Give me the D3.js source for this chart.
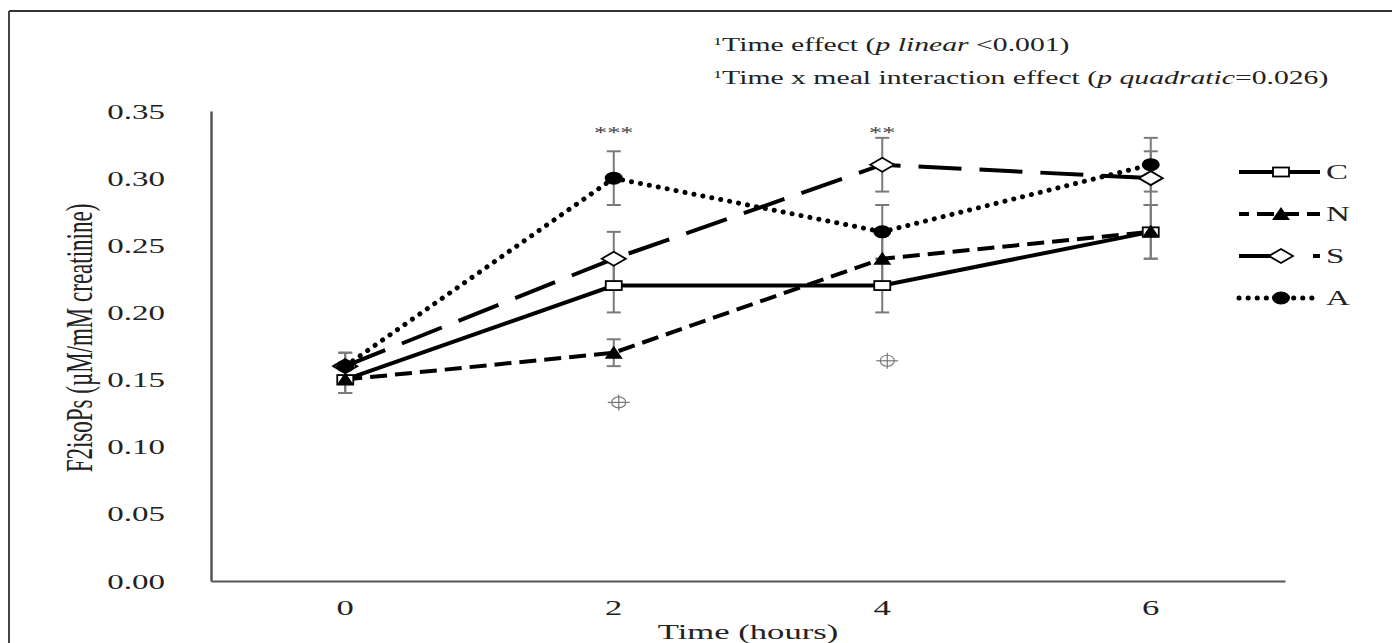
<!DOCTYPE html>
<html lang="en">
<head>
<meta charset="UTF-8">
<title>F2isoPs over time</title>
<script src="https://d3js.org/d3.v7.min.js"></script>
<style>
    body { margin: 0; background: #fff; }
    svg { display: block; font-family: "Liberation Serif", "DejaVu Serif", serif; }
    .err { stroke: #7a7a7a; stroke-width: 2; fill: none; }
</style>
</head>
<body>
<svg width="1392" height="643"></svg>
<script>
// data
const times = ["0", "2", "4", "6"];
const seriesNames = ["C", "N", "S", "A"];
const valuesC = [0.15, 0.22, 0.22, 0.26];
const valuesN = [0.15, 0.17, 0.24, 0.26];
const valuesS = [0.16, 0.24, 0.31, 0.30];
const valuesA = [0.16, 0.30, 0.26, 0.31];
const errC = [0.01, 0.02, 0.02, 0.02];
const errN = [0.01, 0.01, 0.02, 0.02];
const errS = [0.01, 0.02, 0.02, 0.02];
const errA = [0.01, 0.02, 0.02, 0.02];
const yTicks = [0, 0.05, 0.10, 0.15, 0.20, 0.25, 0.30, 0.35];
const starLabels = [{ time: "2", text: "***" }, { time: "4", text: "**" }];
const sigMarks = [{ time: "2", value: 0.133 }, { time: "4", value: 0.164 }];

const series = [
    { name: "C", values: valuesC, err: errC, dash: null, legDash: null, cap: "butt", width: 4, marker: "square" },
    { name: "N", values: valuesN, err: errN, dash: "17,8", legDash: "17,8", cap: "butt", width: 4, marker: "triangle" },
    { name: "S", values: valuesS, err: errS, dash: "43,18", legDash: "52,22", cap: "butt", width: 4, marker: "diamond" },
    { name: "A", values: valuesA, err: errA, dash: "0.1,9", legDash: "0.1,9", cap: "round", width: 5, marker: "circle" }
];

const SX = 1.65; // the text in the picture is stretched sideways

const svg = d3.select("svg");

function stretchText(parent, px, py, size, anchor) {
    return parent.append("text")
        .attr("transform", `translate(${px},${py}) scale(${SX},1)`)
        .attr("font-size", size)
        .attr("text-anchor", anchor || "start")
        .attr("fill", "#222");
}

// frame
svg.append("line").attr("x1", 9).attr("y1", 11).attr("x2", 1392).attr("y2", 11)
    .attr("stroke", "#333").attr("stroke-width", 2);
svg.append("line").attr("x1", 9).attr("y1", 11).attr("x2", 9).attr("y2", 643)
    .attr("stroke", "#444").attr("stroke-width", 2);

const x = d3.scaleBand().domain(times).range([211, 1285]);
const y = d3.scaleLinear().domain([0, 0.35]).range([581, 111]);
const cx = t => x(t) + x.bandwidth() / 2;

// axes
const yAxis = svg.append("g").attr("transform", "translate(211,0)")
    .call(d3.axisLeft(y).tickValues(yTicks).tickFormat(d3.format(".2f")).tickSize(0));
yAxis.select(".domain").attr("stroke", "#555").attr("stroke-width", 2.5);
yAxis.selectAll("text")
    .attr("x", 0).attr("dy", "0.35em")
    .attr("transform", `translate(-46,0) scale(${SX},1)`)
    .attr("font-size", 20).attr("font-family", "Liberation Serif").attr("fill", "#222");

const xAxis = svg.append("g").attr("transform", "translate(0,581)")
    .call(d3.axisBottom(x).tickSize(0));
xAxis.select(".domain").attr("stroke", "#555").attr("stroke-width", 2);
xAxis.selectAll("text")
    .attr("y", 0).attr("dy", 0)
    .attr("transform", `translate(0,34) scale(${SX},1)`)
    .attr("font-size", 21).attr("font-family", "Liberation Serif").attr("fill", "#222");

// axis titles
svg.append("text")
    .attr("transform", `translate(92,338) scale(${SX},1) rotate(-90)`)
    .attr("text-anchor", "middle")
    .attr("font-size", 23)
    .attr("fill", "#222")
    .text("F2isoPs (µM/mM creatinine)");
stretchText(svg, (x.range()[0] + x.range()[1]) / 2, 639, 21, "middle").text("Time (hours)");

// annotations
const note1 = stretchText(svg, 713, 51, 18);
note1.append("tspan").attr("font-size", 11).attr("dy", -6).text("1");
note1.append("tspan").attr("dy", 6).text("Time effect (");
note1.append("tspan").attr("font-style", "italic").text("p linear");
note1.append("tspan").text(" <0.001)");

const note2 = stretchText(svg, 713, 84, 18);
note2.append("tspan").attr("font-size", 11).attr("dy", -6).text("1");
note2.append("tspan").attr("dy", 6).text("Time x meal interaction effect (");
note2.append("tspan").attr("font-style", "italic").text("p quadratic");
note2.append("tspan").text("=0.026)");

// error bars
const errG = svg.append("g");
series.forEach(s => {
    times.forEach((t, i) => {
        const lo = y(s.values[i] - s.err[i]), hi = y(s.values[i] + s.err[i]);
        errG.append("line").attr("class", "err").attr("x1", cx(t)).attr("x2", cx(t)).attr("y1", lo).attr("y2", hi);
        errG.append("line").attr("class", "err").attr("x1", cx(t) - 7).attr("x2", cx(t) + 7).attr("y1", lo).attr("y2", lo);
        errG.append("line").attr("class", "err").attr("x1", cx(t) - 7).attr("x2", cx(t) + 7).attr("y1", hi).attr("y2", hi);
    });
});

// lines
const line = d3.line().x((d, i) => cx(times[i])).y(d => y(d));
series.forEach(s => {
    svg.append("path")
        .attr("d", line(s.values))
        .attr("fill", "none")
        .attr("stroke", "#000")
        .attr("stroke-width", s.width)
        .attr("stroke-dasharray", s.dash)
        .attr("stroke-linecap", s.cap);
});

function drawMarker(g, type, px, py) {
    if (type === "square") {
        g.append("rect").attr("x", px - 8).attr("y", py - 4.5).attr("width", 16).attr("height", 9)
            .attr("fill", "#fff").attr("stroke", "#000").attr("stroke-width", 1.8);
    } else if (type === "triangle") {
        g.append("path").attr("d", `M${px},${py - 7}L${px + 9},${py + 6}L${px - 9},${py + 6}Z`).attr("fill", "#000");
    } else if (type === "diamond") {
        g.append("path").attr("d", `M${px - 12},${py}L${px},${py - 7}L${px + 12},${py}L${px},${py + 7}Z`)
            .attr("fill", "#fff").attr("stroke", "#000").attr("stroke-width", 1.8);
    } else {
        g.append("ellipse").attr("cx", px).attr("cy", py).attr("rx", 9).attr("ry", 6.5).attr("fill", "#000");
    }
}

const markG = svg.append("g");
series.forEach(s => {
    s.values.forEach((v, i) => drawMarker(markG, s.marker, cx(times[i]), y(v)));
});

// significance stars and crosshair marks
starLabels.forEach(d => {
    stretchText(svg, cx(d.time), 138, 16, "middle").attr("fill", "#444").text(d.text);
});
sigMarks.forEach(d => {
    const px = cx(d.time) + 5, py = y(d.value);
    const g = svg.append("g").attr("stroke", "#777").attr("stroke-width", 1.2).attr("fill", "none");
    g.append("ellipse").attr("cx", px).attr("cy", py).attr("rx", 7).attr("ry", 5.5);
    g.append("line").attr("x1", px - 11).attr("x2", px + 11).attr("y1", py).attr("y2", py);
    g.append("line").attr("x1", px).attr("x2", px).attr("y1", py - 8).attr("y2", py + 8);
});

// legend
const legendY = d3.scalePoint().domain(seriesNames).range([172, 298]);
series.forEach(s => {
    const ly = legendY(s.name);
    const g = svg.append("g");
    g.append("line").attr("x1", 1239).attr("x2", 1320).attr("y1", ly).attr("y2", ly)
        .attr("stroke", "#000").attr("stroke-width", s.width)
        .attr("stroke-dasharray", s.legDash).attr("stroke-linecap", s.cap)
        .attr("stroke-dashoffset", s.name === "N" ? 7 : 0);
    drawMarker(g, s.marker, 1281, ly);
    stretchText(g, 1326, ly + 7, 20).text(s.name);
});
</script>
</body>
</html>
